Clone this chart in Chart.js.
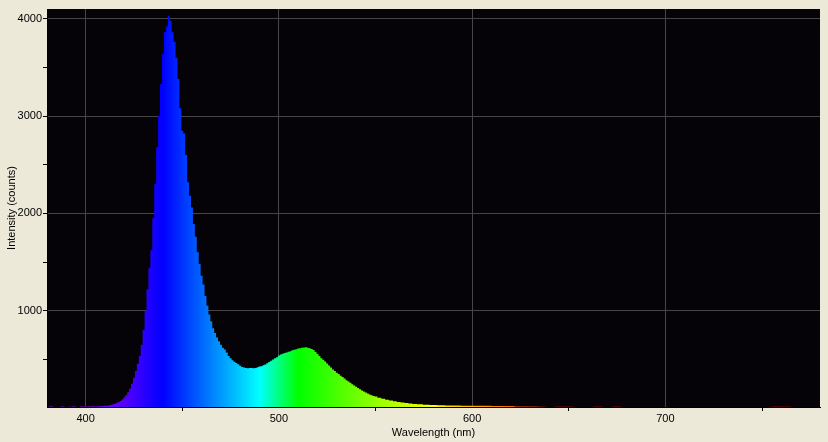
<!DOCTYPE html>
<html><head><meta charset="utf-8">
<script src="https://cdn.jsdelivr.net/npm/chart.js@4"></script>
<style>html,body{margin:0;padding:0;background:#ECE9D8;overflow:hidden}canvas{display:block}</style>
</head><body>
<canvas id="c" width="828" height="442"></canvas>
<script>
// ---- data ----
const wavelengths = [
  380,382,384,386,388,390,392,394,396,398,400,402,404,
  405,406,407,408,409,410,411,412,413,414,
  415,416,417,418,419,420,421,422,423,424,
  425,426,427,428,429,430,431,432,433,434,
  435,436,437,438,439,440,441,442,443,444,
  445,446,447,448,449,450,451,452,453,454,
  455,456,457,458,459,460,461,462,463,464,
  465,466,467,468,469,470,471,472,473,474,
  475,476,477,478,479,480,481,482,483,484,
  485,486,487,488,489,490,491,492,493,494,
  495,496,497,498,499,500,501,502,503,504,
  505,506,507,508,509,510,511,512,513,514,
  515,516,517,518,519,520,521,522,523,524,
  525,526,527,528,529,530,531,532,533,534,
  535,536,537,538,539,540,541,542,543,544,
  545,546,547,548,549,550,
  552,554,556,558,560,562,564,566,568,570,
  573,576,580,584,588,592,596,600,
  604,608,612,616,620,624,628,632,636,640,
  645,650,655,660,665,670,675,680,
  690,700,720,740,750,760,770,780
];
const intensity = [
  10,14,10,10,15,10,12,14,10,15,12,16,18,
  14,16,17,18,20,22,24,26,30,35,
  42,50,60,72,88,108,132,162,200,248,
  310,380,455,535,650,800,1000,1220,1440,1620,
  1950,2300,2680,3000,3330,3640,3860,3920,4030,3980,
  3860,3760,3600,3380,3080,2850,2820,2600,2320,2180,
  2060,1890,1760,1600,1480,1360,1270,1150,1050,960,
  890,820,770,725,685,650,620,600,570,535,
  510,490,475,462,450,435,422,415,410,408,
  410,412,408,412,418,425,430,438,448,460,
  472,486,498,510,522,538,550,558,565,570,
  578,584,592,598,604,610,615,618,622,624,
  620,614,605,595,575,555,535,512,495,478,
  456,436,415,395,380,363,348,332,318,302,
  286,272,258,245,230,218,206,193,180,168,
  158,148,138,130,123,117,
  105,94,85,76,68,61,55,50,45,41,
  37,33,30,28,26,25,24,23,
  22,22,21,20,19,16,15,14,12,10,
  13,12,10,10,13,10,12,10,
  10,10,10,10,10,13,10,10
];
const xMajorTicks = [400, 500, 600, 700];
const xMinorTicks = [450, 550, 650, 750];
const yMajorTicks = [1000, 2000, 3000, 4000];
const yMinorTicks = [500, 1500, 2500, 3500];
const xRange = [380, 780];
const yRange = [10, 4100];
const xTitle = 'Wavelength (nm)';
const yTitle = 'Intensity (counts)';

// ---- styles ----
const spectrumStops = [[380,'#9000ff'],[400,'#8800ff'],[420,'#5500ff'],[440,'#0000ff'],
  [490,'#00ffff'],[510,'#00ff00'],[580,'#ffff00'],[645,'#ff0000'],[780,'#ff0000']];
const FONT = {family:'"Liberation Sans", Arial, sans-serif', size:11};
const GRID = '#464646';

function spectrumFill(chart){
  const a = chart.chartArea; if(!a) return null;
  const xs = chart.scales.x;
  const g = chart.ctx.createLinearGradient(a.left,0,a.right,0);
  spectrumStops.forEach(([w,c])=>{
    const t = Math.min(1, Math.max(0, (xs.getPixelForValue(w)-a.left)/a.width));
    g.addColorStop(t, c);
  });
  return g;
}
const plotBg = {id:'plotBg', beforeDraw(chart){
  const {ctx, chartArea:a} = chart; ctx.save(); ctx.fillStyle = '#050308';
  ctx.fillRect(a.left, a.top, a.width, a.height); ctx.restore(); }};

new Chart(document.getElementById('c'), {
  type:'line',
  data:{datasets:[{
    data: wavelengths.map((w,i)=>({x:w, y:intensity[i]})),
    stepped:'middle', fill:'start', borderWidth:0, borderColor:'transparent',
    pointRadius:0, backgroundColor: ctx => spectrumFill(ctx.chart)
  }]},
  options:{
    responsive:false, animation:false,
    layout:{padding:{top:9, right:8, left:0, bottom:0}},
    plugins:{legend:{display:false}, tooltip:{enabled:false}},
    scales:{
      x:{type:'linear', min:xRange[0], max:xRange[1],
        afterBuildTicks: s => { s.ticks = [...xMajorTicks, ...xMinorTicks].sort((a,b)=>a-b).map(v=>({value:v})); },
        afterFit: s => { s.height = 35; },
        ticks:{autoSkip:false, maxRotation:0, color:'#000', font:FONT, padding:1,
          callback: v => xMajorTicks.includes(v) ? String(v) : ''},
        grid:{color: c => (c.tick && xMajorTicks.includes(c.tick.value)) ? GRID : 'transparent',
          tickColor: c => (c.tick && xMajorTicks.includes(c.tick.value)) ? 'transparent' : '#000',
          tickLength:4, lineWidth:1},
        border:{display:true, color:'#000'},
        title:{display:true, text:xTitle, color:'#000', font:FONT, padding:{top:0, bottom:2}}
      },
      y:{type:'linear', min:yRange[0], max:yRange[1],
        afterBuildTicks: s => { s.ticks = [...yMajorTicks, ...yMinorTicks].sort((a,b)=>a-b).map(v=>({value:v})); },
        afterFit: s => { s.width = 47; },
        ticks:{autoSkip:false, color:'#000', font:FONT, padding:1,
          callback: v => yMajorTicks.includes(v) ? String(v) : ''},
        grid:{color: c => (c.tick && yMajorTicks.includes(c.tick.value)) ? GRID : 'transparent',
          tickColor:'#000', tickLength:4, lineWidth:1},
        border:{display:true, color:'#000'},
        title:{display:true, text:yTitle, color:'#000', font:FONT, padding:{top:5, bottom:0}}
      }
    }
  },
  plugins:[plotBg]
});
</script>
</body></html>
